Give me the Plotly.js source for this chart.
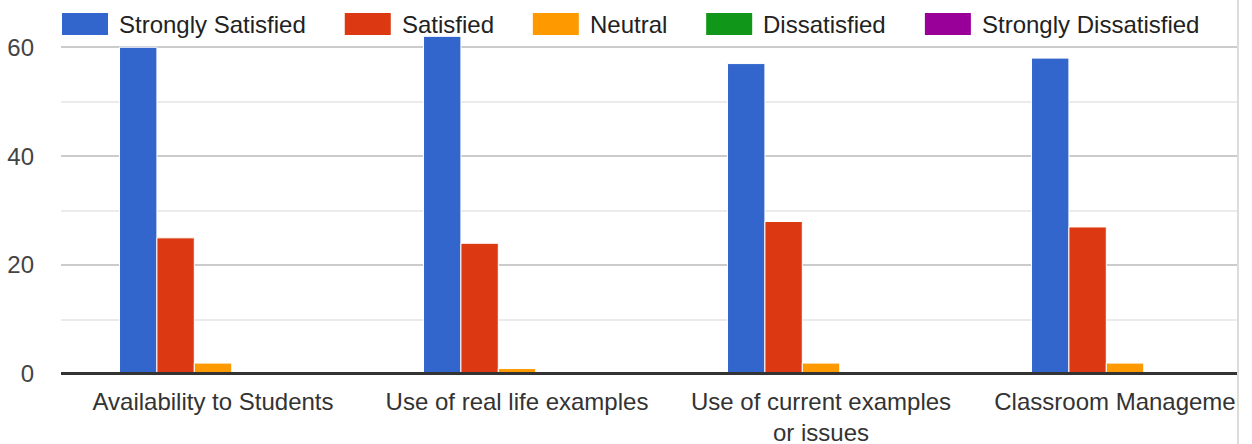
<!DOCTYPE html>
<html>
<head>
<meta charset="utf-8">
<script src="https://cdn.plot.ly/plotly-3.0.1.min.js"></script>
<style>
  html, body { margin: 0; padding: 0; width: 1252px; height: 444px; overflow: hidden; background: #fff; }
  #wrap { position: relative; width: 1252px; height: 444px; overflow: hidden; }
  #chart { position: absolute; left: 0; top: 0; width: 1300px; height: 444px; }
  #edge { position: absolute; left: 1237px; top: 0; width: 20px; height: 444px; background: #fff; border-left: 2px solid #dcdcdc; }
</style>
</head>
<body>
<div id="wrap">
  <div id="chart"></div>
  <div id="edge"></div>
</div>
<script>
// ---- Data ----
const categories = [
  "Availability to Students",
  "Use of real life examples",
  "Use of current examples<br>or issues",
  "Classroom Management"
];
const seriesNames = ["Strongly Satisfied", "Satisfied", "Neutral", "Dissatisfied", "Strongly Dissatisfied"];
const stronglySatisfied    = [60, 62, 57, 58];
const satisfied            = [25, 24, 28, 27];
const neutral              = [2, 1, 2, 2];
const dissatisfied         = [0, 0, 0, 0];
const stronglyDissatisfied = [0, 0, 0, 0];
const seriesValues = [stronglySatisfied, satisfied, neutral, dissatisfied, stronglyDissatisfied];
const seriesColors = ["#3366cc", "#dc3912", "#ff9900", "#109618", "#990099"];
const yTickVals = [0, 20, 40, 60];

// ---- Layout constants ----
const FONT = '"Liberation Sans", Arial, sans-serif';
const W = 1300, H = 444;
const ML = 61, PW = 1216, MT = 20, MB = 70;
const MR = W - ML - PW;
const PH = H - MT - MB;
const px2x = p => (p - ML) / PW;
const py2y = p => (H - MB - p) / PH;

const traces = seriesNames.map((name, i) => ({
  type: 'bar',
  name: name,
  x: categories,
  y: seriesValues[i],
  marker: { color: seriesColors[i], line: { color: '#ffffff', width: 1 } },
  hoverinfo: 'x+y+name',
  showlegend: false
}));

// Legend built from series names and colours
const canvas = document.createElement('canvas');
const ctx = canvas.getContext('2d');
const LEGEND_FS = 24;
ctx.font = LEGEND_FS + 'px "Liberation Sans"';
const shapes = [];
const annotations = [];
let lx = 62;
seriesNames.forEach((name, i) => {
  shapes.push({
    type: 'rect', xref: 'paper', yref: 'paper', layer: 'above',
    x0: px2x(lx), x1: px2x(lx + 46), y0: py2y(35), y1: py2y(13),
    fillcolor: seriesColors[i], line: { width: 0 }
  });
  const tx = lx + 57;
  annotations.push({
    xref: 'paper', yref: 'paper', x: px2x(tx - 2), y: py2y(24.5),
    xanchor: 'left', yanchor: 'middle', showarrow: false,
    text: name, font: { family: FONT, size: LEGEND_FS, color: '#222222' }
  });
  lx = tx + ctx.measureText(name).width + 39;
});

// Baseline (zero line) drawn above bars
shapes.push({
  type: 'line', xref: 'paper', yref: 'paper', layer: 'above',
  x0: 0, x1: 1, y0: py2y(373.5), y1: py2y(373.5),
  line: { color: '#333333', width: 3 }
});

const layout = {
  width: W, height: H,
  margin: { l: ML, r: MR, t: MT, b: MB, pad: 0 },
  paper_bgcolor: '#ffffff', plot_bgcolor: '#ffffff',
  barmode: 'group', bargap: 0.385, bargroupgap: 0,
  showlegend: false,
  font: { family: FONT, size: 24, color: '#333333' },
  xaxis: {
    type: 'category',
    showgrid: false, zeroline: false, showline: false,
    ticks: '', ticklabelstandoff: 11,
    tickfont: { family: FONT, size: 24, color: '#333333' },
    fixedrange: true
  },
  yaxis: {
    range: [0, 65],
    tickmode: 'array', tickvals: yTickVals, ticktext: yTickVals.map(String),
    showgrid: true, gridcolor: '#cccccc', gridwidth: 2,
    minor: { dtick: 10, tick0: 0, showgrid: true, gridcolor: '#ebebeb', gridwidth: 2, ticks: '' },
    zeroline: false, showline: false,
    ticks: '', ticklabelstandoff: 26,
    tickfont: { family: FONT, size: 24, color: '#444444' },
    fixedrange: true
  },
  shapes: shapes,
  annotations: annotations
};

Plotly.newPlot('chart', traces, layout, { displayModeBar: false, staticPlot: true });
</script>
</body>
</html>
